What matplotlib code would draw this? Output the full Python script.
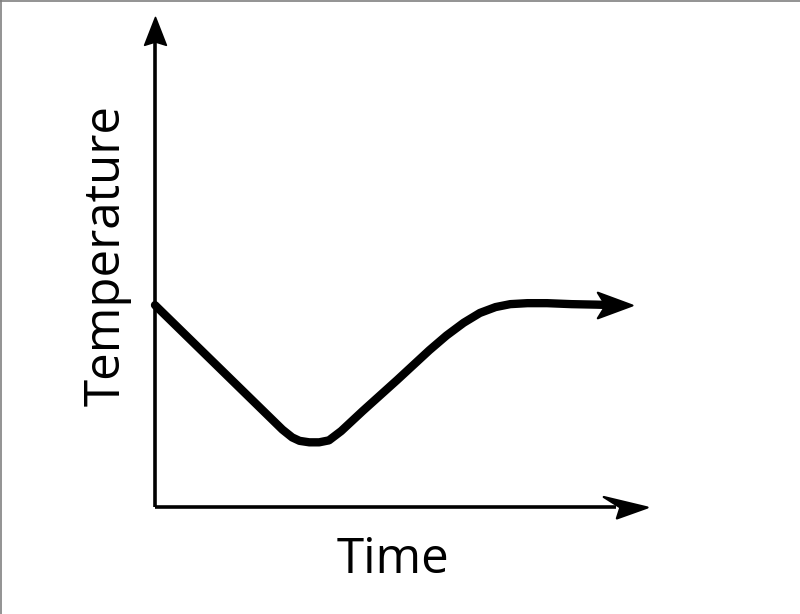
import numpy as np
import matplotlib
matplotlib.use('Agg')
import matplotlib.pyplot as plt
from matplotlib.path import Path
from matplotlib.lines import Line2D

# Значения кривой (время, температура)
time = [0.0, 2.60, 2.80, 2.95, 3.15, 3.35, 3.55, 3.80, 4.24, 4.94, 5.60, 5.95, 6.30,
        6.63, 6.95, 7.25, 7.60, 8.00, 8.50, 9.00, 9.35]
temp = [4.12, 1.58, 1.42, 1.35, 1.32, 1.32, 1.36, 1.55, 1.96, 2.59, 3.20, 3.50, 3.76,
        3.96, 4.08, 4.14, 4.16, 4.16, 4.14, 4.13, 4.12]
curve_tip = (9.73, 4.12)

axis_max = 10.0
x_label = 'Time'
y_label = 'Temperature'


# Наконечник стрелки с вырезом сзади, остриё в (0, 0), смотрит вправо
def arrow_head(back_top, notch, back_bottom, angle=0):
    verts = np.array([[0, 0], back_top, notch, back_bottom, [0, 0]], dtype=float)
    a = np.deg2rad(angle)
    rot = np.array([[np.cos(a), -np.sin(a)], [np.sin(a), np.cos(a)]])
    verts = verts @ rot.T
    codes = [Path.MOVETO, Path.LINETO, Path.LINETO, Path.LINETO, Path.CLOSEPOLY]
    return Path(verts, codes)


fig = plt.figure(figsize=(8, 6.14), dpi=100)
ax = fig.add_axes([0, 0, 1, 1])
# масштаб: 49 px на единицу, начало координат в (155, 507) px
ax.set_xlim(-155 / 49, 645 / 49)
ax.set_ylim(-107 / 49, 507 / 49)
ax.axis('off')

# Оси
ax.plot([0, 0], [0, axis_max - 0.5], color='black', lw=2.6, solid_capstyle='butt')
ax.plot([0, axis_max - 0.6], [0, 0], color='black', lw=2.6, solid_capstyle='butt')
y_head = arrow_head([-1, 0.39], [-0.88, 0], [-1, -0.39], angle=90)
x_head = arrow_head([-1, 0.24], [-0.62, 0], [-0.70, -0.25])
ax.plot([0], [axis_max], marker=y_head, markersize=40, color='black',
        markeredgewidth=1.2, linestyle='none')
ax.plot([axis_max + 0.04], [0], marker=x_head, markersize=63, color='black',
        markeredgewidth=1.6, linestyle='none')

# Кривая температуры
ax.plot(time, temp, color='black', lw=6.0, solid_joinstyle='round', solid_capstyle='round')
c_head = arrow_head([-1, 0.37], [-0.77, 0], [-1, -0.37])
ax.plot([curve_tip[0]], [curve_tip[1]], marker=c_head, markersize=50, color='black',
        markeredgewidth=1.5, linestyle='none')

# Подписи
ax.text(4.86, -1.347, x_label, ha='center', va='baseline',
        fontsize=35.5, family='Open Sans')
ax.text(-0.714, 5.14, y_label, ha='center', va='baseline', rotation=90,
        rotation_mode='anchor', fontsize=35.5, family='Open Sans')

# серая рамка сверху и слева
fig.add_artist(Line2D([0, 1], [0.999, 0.999], color='#808080', lw=1.2, transform=fig.transFigure))
fig.add_artist(Line2D([0.001, 0.001], [0, 1], color='#808080', lw=1.2, transform=fig.transFigure))

fig.savefig('out.png', dpi=100)
